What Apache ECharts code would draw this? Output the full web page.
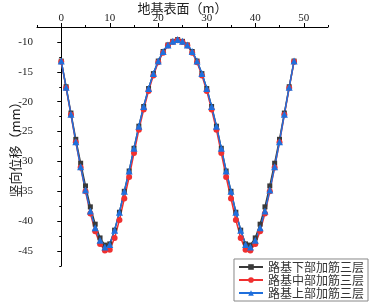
<!DOCTYPE html>
<html>
<head>
<meta charset="utf-8">
<script src="https://cdn.jsdelivr.net/npm/echarts@6/dist/echarts.min.js"></script>
<style>
html, body { margin: 0; padding: 0; background: #fff; }
#chart { width: 373px; height: 304px; }
</style>
</head>
<body>
<div id="chart"></div>
<script>
// 横坐标：地基表面位置 (m)
const xVals = [0, 1, 2, 3, 4, 5, 6, 7, 8, 9, 10, 11, 12, 13, 14, 15, 16, 17, 18, 19, 20, 21, 22, 23, 24,
  25, 26, 27, 28, 29, 30, 31, 32, 33, 34, 35, 36, 37, 38, 39, 40, 41, 42, 43, 44, 45, 46, 47, 48]

// 竖向位移 (mm)
const lowerLayer = [-13.2, -17.5, -21.9, -26.3, -30.3, -34.1, -37.6, -40.5, -42.8, -44.0, -43.8, -41.5, -38.5,
  -35.0, -31.6, -27.8, -24.1, -20.8, -17.8, -15.3, -13.2, -11.6, -10.5, -9.9, -9.6,
  -9.9, -10.5, -11.6, -13.2, -15.3, -17.8, -20.8, -24.1, -27.8, -31.6, -35.0, -38.5, -41.5, -43.8,
  -44.0, -42.8, -40.5, -37.6, -34.1, -30.3, -26.3, -21.9, -17.5, -13.2]
const middleLayer = [-13.3, -17.7, -22.2, -26.8, -31.0, -35.0, -38.7, -41.7, -43.8, -44.9, -44.8, -42.8, -39.8,
  -36.2, -32.6, -28.6, -24.7, -21.3, -18.2, -15.6, -13.4, -11.8, -10.6, -10.0, -9.7,
  -10.0, -10.6, -11.8, -13.4, -15.6, -18.2, -21.3, -24.7, -28.6, -32.6, -36.2, -39.8, -42.8, -44.8,
  -44.9, -43.8, -41.7, -38.7, -35.0, -31.0, -26.8, -22.2, -17.7, -13.3]
const upperLayer = [-13.2, -17.6, -22.1, -26.7, -30.9, -34.8, -38.3, -41.1, -43.2, -44.3, -43.9, -41.5, -38.5,
  -35.0, -31.6, -27.8, -24.1, -20.8, -17.8, -15.3, -13.2, -11.6, -10.5, -9.9, -9.6,
  -9.9, -10.5, -11.6, -13.2, -15.3, -17.8, -20.8, -24.1, -27.8, -31.6, -35.0, -38.5, -41.5, -43.9,
  -44.3, -43.2, -41.1, -38.3, -34.8, -30.9, -26.7, -22.1, -17.6, -13.2]

const xTicks = [0, 10, 20, 30, 40, 50]
const xMinorTicks = [-5, 5, 15, 25, 35, 45, 55]
const yTicks = [-45, -40, -35, -30, -25, -20, -15, -10]
const yMinorTicks = [-47.5, -42.5, -37.5, -32.5, -27.5, -22.5, -17.5, -12.5, -7.5]

const fontNum = "'Liberation Serif', 'Noto Sans CJK SC', serif"
const fontCn = "'Noto Sans CJK SC', sans-serif"

const toPairs = arr => arr.map((v, i) => [xVals[i], v])

const chart = echarts.init(document.getElementById('chart'))

const baseX = {
  type: 'value',
  position: 'top',
  min: -5,
  max: 55,
  splitLine: { show: false },
}
const baseY = {
  type: 'value',
  min: -47.5,
  max: -7.5,
  splitLine: { show: false },
}

const option = {
  animation: false,
  backgroundColor: '#fff',
  grid: { left: 37, right: 45, top: 27, bottom: 38, outerBoundsMode: 'none', containLabel: false },
  legend: {
    orient: 'vertical',
    right: 5,
    bottom: 3,
    backgroundColor: '#fff',
    borderColor: '#888',
    borderWidth: 1,
    borderRadius: 0,
    padding: [2, 4, 2, 4],
    itemGap: 1,
    itemWidth: 24,
    itemHeight: 7,
    textStyle: { fontFamily: fontCn, fontSize: 12, color: '#333' },
    data: ['路基下部加筋三层', '路基中部加筋三层', '路基上部加筋三层'],
  },
  xAxis: [
    Object.assign({}, baseX, {
      name: '地基表面（m）',
      nameLocation: 'middle',
      nameGap: 12,
      nameMoveOverlap: false,
      nameTextStyle: { fontFamily: fontCn, fontSize: 13, color: '#222' },
      axisLine: { show: true, lineStyle: { color: '#000', width: 1 } },
      axisTick: { show: true, length: 4, customValues: xTicks, lineStyle: { color: '#000' } },
      axisLabel: { customValues: xTicks, fontFamily: fontNum, fontSize: 11, color: '#222', margin: 3 },
    }),
    Object.assign({}, baseX, {
      axisLine: { show: false },
      axisTick: { show: true, length: 2, customValues: xMinorTicks, lineStyle: { color: '#000' } },
      axisLabel: { show: false },
    }),
  ],
  yAxis: [
    Object.assign({}, baseY, {
      name: '竖向位移（mm）',
      nameLocation: 'middle',
      nameGap: 15,
      nameMoveOverlap: false,
      nameTextStyle: { fontFamily: fontCn, fontSize: 13, color: '#222' },
      axisLine: { show: true, lineStyle: { color: '#000', width: 1 } },
      axisTick: { show: true, length: 4, customValues: yTicks, lineStyle: { color: '#000' } },
      axisLabel: { customValues: yTicks, fontFamily: fontNum, fontSize: 11, color: '#222', margin: 4 },
    }),
    Object.assign({}, baseY, {
      position: 'left',
      axisLine: { show: false },
      axisTick: { show: true, length: 2, customValues: yMinorTicks, lineStyle: { color: '#000' } },
      axisLabel: { show: false },
    }),
  ],
  series: [
    {
      name: '路基下部加筋三层',
      type: 'line',
      data: toPairs(lowerLayer),
      symbol: 'rect',
      symbolSize: 5,
      lineStyle: { color: '#3a3a3a', width: 1.5 },
      itemStyle: { color: '#3a3a3a' },
    },
    {
      name: '路基中部加筋三层',
      type: 'line',
      data: toPairs(middleLayer),
      symbol: 'circle',
      symbolSize: 6,
      lineStyle: { color: '#f03030', width: 1.5 },
      itemStyle: { color: '#f03030' },
    },
    {
      name: '路基上部加筋三层',
      type: 'line',
      data: toPairs(upperLayer),
      symbol: 'triangle',
      symbolSize: 7,
      lineStyle: { color: '#1f6fdc', width: 1.5 },
      itemStyle: { color: '#1f6fdc' },
    },
  ],
}

chart.setOption(option)
</script>
</body>
</html>
